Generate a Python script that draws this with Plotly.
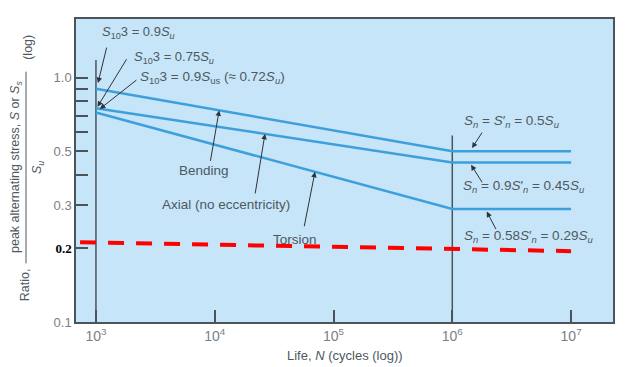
import numpy as np
import plotly.graph_objects as go

# ---------------- data ----------------
life_N = [1e3, 1e6, 1e7]
bending = [0.9, 0.5, 0.5]
axial = [0.75, 0.45, 0.45]
torsion = [0.72, 0.29, 0.29]

red_N = [7.35e2, 1e7]
red_ratio = [0.212, 0.195]

ref_N = [1e3, 1e6]          # vertical reference lines
ref_top = [1.18, 0.58]

y_tickvals = [0.1, 0.2, 0.3, 0.5, 1.0]
y_ticktext = ["0.1",
              "<span style='font-family:Liberation Serif;color:black;font-weight:bold'>0.2</span>",
              "0.3", "0.5", "1.0"]
y_minorvals = [0.4, 0.6, 0.7, 0.8, 0.9]
x_tickvals = [1e3, 1e4, 1e5, 1e6, 1e7]
x_ticktext = ["10<sup>3</sup>", "10<sup>4</sup>", "10<sup>5</sup>", "10<sup>6</sup>", "10<sup>7</sup>"]

# ---------------- layout constants ----------------
OFF = 8                      # page body margin
W, H = 629 - OFF, 367 - OFF
L, R, T, B = 76 - OFF, 16, 17 - OFF, 45
PW, PH = W - L - R, H - T - B
XR = [2.832, 7.353]
YR = [-1.0, 0.240]

BG = "#c6e5f8"
BLUE = "#3d9fdc"
DARK = "#4b535b"
TXT = "#4f5861"
TICK = "#7b8086"
FONT = "Liberation Sans"


def xp_(x):   # screen pixel -> paper
    return (x - OFF - L) / PW


def yp_(y):
    return (H - B - (y - OFF)) / PH


def on_line(N, series):
    return 10 ** np.interp(np.log10(N), np.log10(life_N), np.log10(series))


fig = go.Figure()

for xv, top in zip(ref_N, ref_top):
    fig.add_trace(go.Scatter(x=[xv, xv], y=[0.1, top], mode="lines",
                             line=dict(color=DARK, width=1.5), hoverinfo="skip"))

for s in (bending, axial, torsion):
    fig.add_trace(go.Scatter(x=life_N, y=s, mode="lines",
                             line=dict(color=BLUE, width=2.5), hoverinfo="skip"))

fig.add_trace(go.Scatter(x=red_N, y=red_ratio, mode="lines",
                         line=dict(color="#ff0000", width=4, dash="16px,12px"),
                         hoverinfo="skip"))

ann = []

labels = [
    ("<i>S</i><sub>10</sub>3 = 0.9<i>S<sub>u</sub></i>", 100, 31, 13),
    ("<i>S</i><sub>10</sub>3 = 0.75<i>S<sub>u</sub></i>", 132, 56, 13),
    ("<i>S</i><sub>10</sub>3 = 0.9<i>S</i><sub>us</sub> (≈ 0.72<i>S<sub>u</sub></i>)", 138, 76, 13.5),
    ("Bending", 177, 170, 13.5),
    ("Axial (no eccentricity)", 160, 204, 13.5),
    ("Torsion", 271, 239, 13.5),
    ("<i>S<sub>n</sub></i> = <i>S</i>′<i><sub>n</sub></i> = 0.5<i>S<sub>u</sub></i>", 462, 120, 13.5),
    ("<i>S<sub>n</sub></i> = 0.9<i>S</i>′<i><sub>n</sub></i> = 0.45<i>S<sub>u</sub></i>", 461, 186, 13.5),
    ("<i>S<sub>n</sub></i> = 0.58<i>S</i>′<i><sub>n</sub></i> = 0.29<i>S<sub>u</sub></i>", 462, 236, 13.5),
]
for txt, x, y, fs in labels:
    ann.append(dict(text=txt, x=xp_(x), y=yp_(y), xref="paper", yref="paper",
                    xanchor="left", yanchor="middle", showarrow=False,
                    font=dict(family=FONT, size=fs, color=TXT)))

# arrows: head at data position, tail pixel offset
arrows = [
    (1.04e3, 0.95, 9, -37),
    (1.03e3, 0.76, 30, -49),
    (1.08e3, 0.745, 38, -30),
    (1.09e4, on_line(1.09e4, bending), -9, 52),
    (10 ** 4.423, on_line(10 ** 4.423, axial), -10, 61),
    (10 ** 4.844, on_line(10 ** 4.844, torsion), -11, 56),
    (10 ** 6.166, 0.515, 11, -17),
    (10 ** 6.158, 0.44, 12, 19),
    (10 ** 6.29, 0.283, 10, 19),
]
for N, v, ax, ay in arrows:
    ann.append(dict(text="", x=np.log10(N), y=np.log10(v), xref="x", yref="y",
                    ax=ax, ay=ay, showarrow=True, arrowhead=2, arrowsize=1.1,
                    arrowwidth=1, arrowcolor="#2f3338", standoff=0))

# y-axis title pieces (rotated)
ytitle = [
    ("Ratio,", 25, 285),
    ("peak alternating stress, <i>S</i> or <i>S<sub>s</sub></i>", 16, 166),
    ("(log)", 28, 46),
    ("<i>S<sub>u</sub></i>", 38, 167),
]
for txt, x, y in ytitle:
    ann.append(dict(text=txt, x=xp_(x), y=yp_(y), xref="paper", yref="paper",
                    xanchor="center", yanchor="middle", textangle=-90, showarrow=False,
                    font=dict(family=FONT, size=12.5, color=TXT)))

# x-axis title
ann.append(dict(text="Life, <i>N</i> (cycles (log))", x=0.5, y=yp_(356), xref="paper", yref="paper",
                xanchor="center", yanchor="middle", showarrow=False,
                font=dict(family=FONT, size=13, color=TXT)))

fig.update_layout(
    width=W, height=H, autosize=False,
    margin=dict(l=L, r=R, t=T, b=B, pad=0),
    paper_bgcolor="white", plot_bgcolor=BG,
    showlegend=False,
    annotations=ann,
    shapes=[dict(type="line", xref="paper", yref="paper",
                 x0=xp_(26), x1=xp_(26), y0=yp_(70), y1=yp_(263),
                 line=dict(color=TXT, width=1))],
    font=dict(family=FONT, color=TICK),
)
fig.update_xaxes(type="log", range=XR, tickvals=x_tickvals, ticktext=x_ticktext,
                 ticks="inside", ticklen=12, tickcolor=DARK, tickwidth=1.5,
                 showgrid=False, zeroline=False, showline=True, mirror=True,
                 linecolor=DARK, linewidth=1.5,
                 tickfont=dict(family=FONT, size=14, color=TICK))
fig.update_yaxes(type="log", range=YR, tickvals=y_tickvals, ticktext=y_ticktext,
                 ticks="inside", ticklen=12, tickcolor=DARK, tickwidth=1.5,
                 minor=dict(tickvals=y_minorvals, ticks="inside", ticklen=12,
                            tickcolor=DARK, tickwidth=1.5, showgrid=False),
                 showgrid=False, zeroline=False, showline=True, mirror=True,
                 linecolor=DARK, linewidth=1.5,
                 tickfont=dict(family=FONT, size=13, color=TICK))

fig.write_html("out.html")
